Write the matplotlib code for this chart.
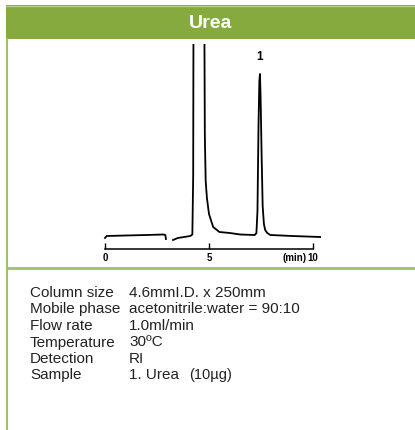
import matplotlib.pyplot as plt
from matplotlib.patches import Rectangle
from matplotlib.lines import Line2D
import numpy as np

plt.rcParams['font.family'] = ['Liberation Sans', 'DejaVu Sans']

W, H = 415, 431

# chromatogram trace, time (min) and detector signal (arbitrary units)
time = [0.0, 0.08, 1.0, 2.0, 2.8, 2.9, 2.93, np.nan,
        3.27, 3.5, 3.8, 4.1, 4.2, 4.24, 4.27, 4.32, 4.5, 4.7, 4.76, 4.8, 4.84,
        4.9, 5.0, 5.2, 5.5, 6.0, 6.5, 7.2, 7.28, 7.33, 7.38, 7.42, 7.45,
        7.48, 7.53, 7.58, 7.64, 7.7, 7.8, 7.95, 9.0, 10.35]
signal = [-2, 0, 0.5, 1, 1.5, 1, -3, np.nan,
          -4, -2, -1, 0, 1.5, 60, 400, 900, 1200, 700, 300, 100, 55,
          38, 22, 9, 4, 3, 1.5, 1, 3, 25, 110, 155, 162,
          140, 80, 30, 12, 6, 3, 1, 0, -1]
peak_labels = ['1']
peak_times = [7.45]
peak_label_y = [180]
ticks = [0, 5, 10]

conditions = ['Column size', 'Mobile phase', 'Flow rate', 'Temperature', 'Detection', 'Sample']
values = ['4.6mmI.D. x 250mm', 'acetonitrile:water = 90:10', '1.0ml/min',
          '30ºC', 'RI', '1. Urea']
sample_amount = '(10µg)'

green = '#86aa3e'
light_green = '#9cc166'

fig = plt.figure(figsize=(W / 100, H / 100), dpi=100)


def fx(px):
    return px / W


def fy(py):
    return 1 - py / H


# header bar and card frame
fig.add_artist(Rectangle((fx(6), fy(40)), fx(415 - 6), 34 / H, transform=fig.transFigure,
                         facecolor=green, edgecolor='none'))
fig.add_artist(Line2D([fx(6), fx(415)], [fy(6.5), fy(6.5)], transform=fig.transFigure,
                      color='#b5d08c', lw=1))
fig.add_artist(Line2D([fx(7), fx(7)], [fy(40), fy(431)], transform=fig.transFigure,
                      color=light_green, lw=1.5))
fig.add_artist(Line2D([fx(7), fx(415)], [fy(269), fy(269)], transform=fig.transFigure,
                      color=light_green, lw=2))
fig.text(fx(210.5), fy(23), 'Urea', color='white', fontsize=14, fontweight='bold',
         ha='center', va='center')

# chromatogram
ax = fig.add_axes([fx(105 - 0.15 * 20.8), fy(250), (10.55 * 20.8) / W, 205 / H])
ax.plot(time, signal, color='black', lw=1.3)
ax.set_xlim(-0.15, 10.4)
ax.set_ylim(-13, 192)
for s in ['top', 'left', 'right']:
    ax.spines[s].set_visible(False)
ax.spines['bottom'].set_bounds(0, 10)
ax.spines['bottom'].set_linewidth(1.1)
ax.set_yticks([])
ax.set_xticks(ticks)
ax.set_xticklabels([str(t) for t in ticks], fontsize=7, fontweight='bold')
ax.tick_params(axis='x', direction='in', length=4.5, width=1, pad=2.5)
ax.patch.set_alpha(0)
ax.text(9.68, -0.017, '(min)', transform=ax.get_xaxis_transform(), fontsize=7,
        fontweight='bold', ha='right', va='top')
for lab, t, yy in zip(peak_labels, peak_times, peak_label_y):
    ax.text(t, yy, lab, fontsize=8.5, fontweight='bold', ha='center', va='center')

# conditions table
for i, (c, v) in enumerate(zip(conditions, values)):
    y = fy(293 + 16.5 * i)
    fig.text(fx(30), y, c, fontsize=11, va='center', color='#222222')
    fig.text(fx(129), y, v, fontsize=11, va='center', color='#222222')
fig.text(fx(189), fy(293 + 16.5 * 5), sample_amount, fontsize=10.5, va='center', color='#222222')

fig.savefig('out.png', dpi=100)
